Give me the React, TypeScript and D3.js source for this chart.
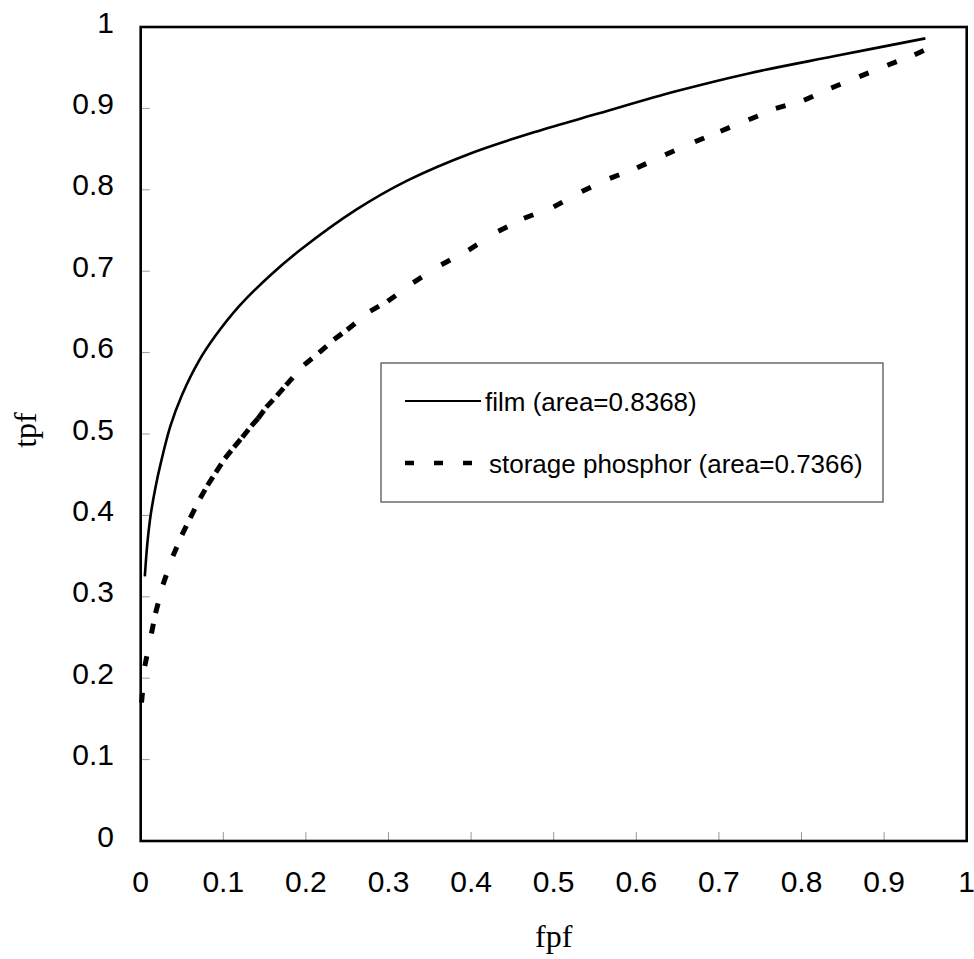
import React from "react";
import * as d3 from "d3";

const tickValues = [0, 0.1, 0.2, 0.3, 0.4, 0.5, 0.6, 0.7, 0.8, 0.9, 1];
const tickLabels = ["0", "0.1", "0.2", "0.3", "0.4", "0.5", "0.6", "0.7", "0.8", "0.9", "1"];

const filmFpf = [0.005, 0.008, 0.012, 0.018, 0.024, 0.036, 0.05, 0.07, 0.09, 0.12, 0.158, 0.193, 0.26, 0.322, 0.4, 0.477, 0.555, 0.648, 0.736, 0.839, 0.95];
const filmTpf = [0.325, 0.365, 0.4, 0.435, 0.463, 0.51, 0.548, 0.589, 0.62, 0.658, 0.696, 0.726, 0.775, 0.811, 0.845, 0.871, 0.894, 0.921, 0.943, 0.964, 0.986];

const phosFpf = [0.001, 0.005, 0.013, 0.018, 0.027, 0.039, 0.05, 0.06, 0.072, 0.081, 0.091, 0.102, 0.113, 0.123, 0.134, 0.142, 0.152, 0.165, 0.176, 0.198, 0.216, 0.234, 0.25, 0.278, 0.299, 0.33, 0.364, 0.397, 0.433, 0.464, 0.5, 0.534, 0.568, 0.601, 0.635, 0.671, 0.702, 0.736, 0.769, 0.803, 0.836, 0.87, 0.904, 0.937, 0.95];
const phosTpf = [0.17, 0.215, 0.255, 0.28, 0.315, 0.35, 0.376, 0.397, 0.421, 0.437, 0.453, 0.47, 0.484, 0.496, 0.51, 0.519, 0.533, 0.547, 0.56, 0.585, 0.6, 0.616, 0.628, 0.651, 0.663, 0.686, 0.708, 0.726, 0.749, 0.765, 0.779, 0.798, 0.814, 0.827, 0.843, 0.859, 0.872, 0.886, 0.9, 0.91, 0.925, 0.939, 0.953, 0.966, 0.972];

const seriesNames = ["film (area=0.8368)", "storage phosphor (area=0.7366)"];
const xTitle = "fpf";
const yTitle = "tpf";

const W = 974;
const H = 959;
const L = 140.7, R = 966.7, T = 27, B = 841;

export default function App() {
  const x = d3.scaleLinear().domain([0, 1]).range([L, R]);
  const y = d3.scaleLinear().domain([0, 1]).range([B, T]);

  const film = filmFpf.map((f, i) => [f, filmTpf[i]] as [number, number]);
  const phos = phosFpf.map((f, i) => [f, phosTpf[i]] as [number, number]);

  const filmPath = d3
    .line<[number, number]>()
    .x((d) => x(d[0]))
    .y((d) => y(d[1]))
    .curve(d3.curveCatmullRom.alpha(0.5))(film) as string;

  const segLine = d3
    .line<[number, number]>()
    .x((d) => x(d[0]))
    .y((d) => y(d[1]));

  const segments = phos.slice(0, -1).map((p, i) => segLine([p, phos[i + 1]]) as string);

  const font = "Arial, 'Liberation Sans', sans-serif";
  const serif = "'Times New Roman', 'Liberation Serif', serif";

  const lgX = 381, lgY = 363, lgW = 502, lgH = 139;
  const row1 = 401, row2 = 463;
  const sx0 = 405, sx1 = 481;

  return (
    <svg width={W} height={H} style={{ position: "absolute", left: 0, top: 0, background: "#fff" }}>
      <rect x={0} y={0} width={W} height={H} fill="#fff" />
      {tickValues.map((v, i) => (
        <g key={"t" + i}>
          <line x1={x(v)} x2={x(v)} y1={B} y2={B - 9} stroke="#999" strokeWidth={1} />
          <line x1={L} x2={L + 9} y1={y(v)} y2={y(v)} stroke="#999" strokeWidth={1} />
          <text x={x(v)} y={892} textAnchor="middle" fontFamily={font} fontSize={30} fill="#000">
            {tickLabels[i]}
          </text>
          <text x={114} y={y(v) + 5.5} textAnchor="end" fontFamily={font} fontSize={30} fill="#000">
            {tickLabels[i]}
          </text>
        </g>
      ))}
      <path d={filmPath} fill="none" stroke="#000" strokeWidth={2.6} />
      {segments.map((d, i) => (
        <path key={"s" + i} d={d} fill="none" stroke="#000" strokeWidth={5} strokeDasharray="10,40" />
      ))}
      <rect x={L} y={T} width={R - L} height={B - T} fill="none" stroke="#000" strokeWidth={2.6} />
      <rect x={lgX} y={lgY} width={lgW} height={lgH} fill="#fff" stroke="#555" strokeWidth={1.3} />
      <line x1={sx0} x2={sx1} y1={row1} y2={row1} stroke="#000" strokeWidth={2.2} />
      <line x1={sx0} x2={sx1} y1={row2} y2={row2} stroke="#000" strokeWidth={4.5} strokeDasharray="9,20" />
      <text x={485} y={row1 + 9.5} fontFamily={font} fontSize={26} fill="#000">
        {seriesNames[0]}
      </text>
      <text x={489} y={row2 + 9.5} fontFamily={font} fontSize={26} fill="#000">
        {seriesNames[1]}
      </text>
      <text x={(L + R) / 2} y={947} textAnchor="middle" fontFamily={serif} fontSize={32} fill="#000">
        {xTitle}
      </text>
      <text
        transform={`translate(36, ${(T + B) / 2 - 4}) rotate(-90)`}
        textAnchor="middle"
        fontFamily={serif}
        fontSize={32}
        fill="#000"
      >
        {yTitle}
      </text>
    </svg>
  );
}
